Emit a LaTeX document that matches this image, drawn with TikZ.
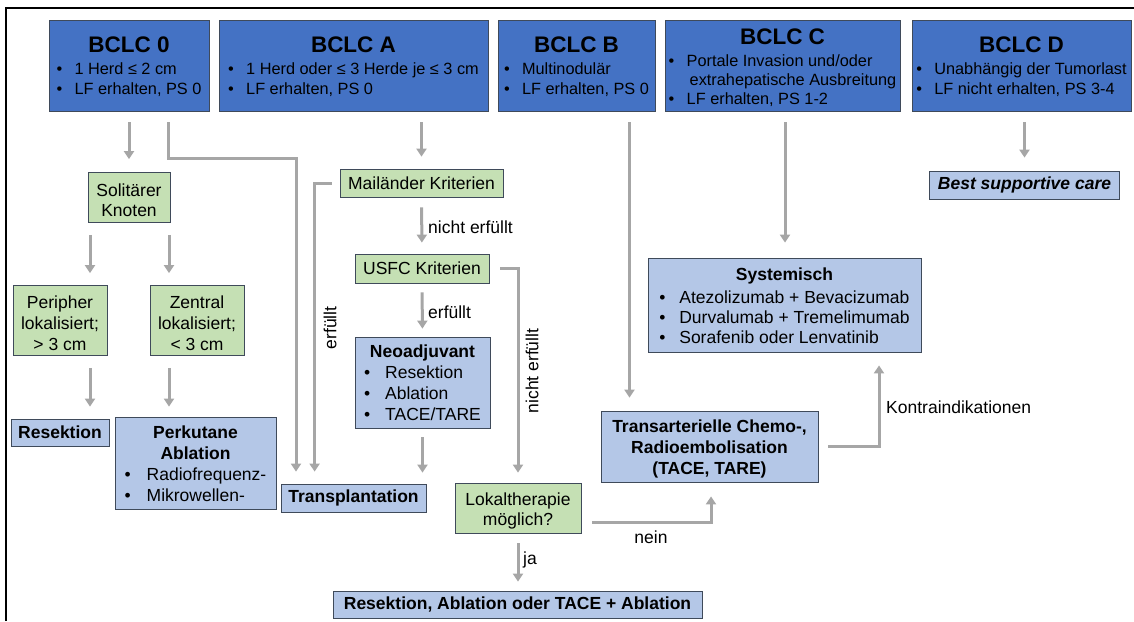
\documentclass[tikz,border=0pt]{standalone}
\usepackage{fontspec}
\setmainfont{Liberation Sans}
\usetikzlibrary{arrows.meta}
\definecolor{dblue}{HTML}{4472C4}
\definecolor{lblue}{HTML}{B4C7E7}
\definecolor{lgreen}{HTML}{C5E0B4}
\definecolor{bord}{HTML}{3F4A5A}
\definecolor{arrg}{HTML}{A6A6A6}
\newcommand{\bl}[2][18pt]{\makebox[#1][l]{\textbullet}#2}
\newcommand{\tfont}{\fontsize{22.5}{26}\selectfont\bfseries}
\newcommand{\ctr}[1]{\multicolumn{1}{@{}c@{}}{#1}}
\newcommand{\tup}{\rule{0pt}{22pt}}
\newcommand{\bup}{\rule{0pt}{19.7pt}}
\newcommand{\lup}{\rule{0pt}{18pt}}
\begin{document}
\begin{tikzpicture}[x=1pt,y=-1pt,
  box/.style={draw=bord, line width=0.8pt, inner sep=0pt, align=center, font=\fontsize{17.5}{21}\selectfont},
  topbox/.style={box, fill=dblue, font=\fontsize{16.3}{20}\selectfont},
  lbox/.style={box, fill=lblue},
  gbox/.style={box, fill=lgreen},
  arr/.style={draw=arrg, line width=3pt, -{Triangle[width=10pt,length=8pt]}},
  lab/.style={font=\fontsize{17.5}{21}\selectfont, inner sep=0pt}]

\useasboundingbox (0,0) rectangle (1134,621);
\draw[line width=2.5pt] (6,621) -- (6,8) -- (1134,8);

% top row
\node[topbox, minimum width=160pt, minimum height=91pt] (b0) at (129,65.5)
  {\begin{tabular}{@{}l@{}}\ctr{\tup\tfont BCLC 0}\\[2pt]\bl{1 Herd ≤ 2 cm}\\\bl{LF erhalten, PS 0}\end{tabular}};
\node[topbox, minimum width=269pt, minimum height=91pt] (bA) at (353.5,65.5)
  {\begin{tabular}{@{}l@{}}\ctr{\tup\tfont BCLC A}\\[2pt]\bl{1 Herd oder ≤ 3 Herde je ≤ 3 cm}\\\bl{LF erhalten, PS 0}\end{tabular}};
\node[topbox, minimum width=157pt, minimum height=91pt] (bB) at (576.5,65.5)
  {\begin{tabular}{@{}l@{}}\ctr{\tup\tfont BCLC B}\\[2pt]\bl{Multinodulär}\\\bl{LF erhalten, PS 0}\end{tabular}};
\node[topbox, minimum width=235pt, minimum height=91pt, font=\fontsize{16.3}{19}\selectfont] (bC) at (782.5,65.5)
  {\begin{tabular}{@{}l@{}}\ctr{\rule{0pt}{23.5pt}\tfont BCLC C}\\[3pt]\bl{Portale Invasion und/oder}\\\hspace*{21pt}extrahepatische Ausbreitung\\\bl{LF erhalten, PS 1-2}\end{tabular}};
\node[topbox, minimum width=219pt, minimum height=91pt] (bD) at (1021.5,65.5)
  {\begin{tabular}{@{}l@{}}\ctr{\tup\tfont BCLC D}\\[2pt]\bl{Unabhängig der Tumorlast}\\\bl{LF nicht erhalten, PS 3-4}\end{tabular}};

% BCLC 0 branch
\node[gbox, minimum width=82pt, minimum height=50pt, font=\fontsize{17.5}{20}\selectfont] (sol) at (129,197.5) {\lup Solitärer\\Knoten};
\node[gbox, minimum width=94pt, minimum height=70pt] (per) at (60,320.5) {\lup Peripher\\lokalisiert;\\> 3 cm};
\node[gbox, minimum width=94pt, minimum height=70pt] (zen) at (197,320.5) {\lup Zentral\\lokalisiert;\\< 3 cm};
\node[lbox, minimum width=98pt, minimum height=27pt, font=\fontsize{17.5}{21}\selectfont\bfseries] (res) at (60,432.5) {Resektion};
\node[lbox, minimum width=161pt, minimum height=92pt] (perk) at (195.5,463)
  {\begin{tabular}{@{}l@{}}\ctr{\bup\bfseries Perkutane}\\\ctr{\bfseries Ablation}\\\bl[22pt]{Radiofrequenz-}\\\bl[22pt]{Mikrowellen-}\end{tabular}};
\node[lbox, minimum width=145pt, minimum height=28pt, font=\fontsize{17.5}{21}\selectfont\bfseries] (tx) at (353.5,498) {Transplantation};

% BCLC A branch
\node[gbox, minimum width=163pt, minimum height=28pt] (mail) at (421.5,183) {Mailänder Kriterien};
\node[gbox, minimum width=134pt, minimum height=29pt] (usfc) at (422,268.5) {USFC Kriterien};
\node[lbox, minimum width=135pt, minimum height=91pt] (neo) at (422.5,382.5)
  {\begin{tabular}{@{}l@{}}\ctr{\bup\bfseries Neoadjuvant}\\\bl[21pt]{Resektion}\\\bl[21pt]{Ablation}\\\bl[21pt]{TACE/TARE}\end{tabular}};
\node[gbox, minimum width=126pt, minimum height=50pt, font=\fontsize{17.5}{20}\selectfont] (lok) at (518,508) {\lup Lokaltherapie\\möglich?};
\node[lbox, minimum width=369pt, minimum height=27pt, font=\fontsize{17.5}{21}\selectfont\bfseries] (fin) at (517.5,604.5) {Resektion, Ablation oder TACE + Ablation};

% BCLC B/C/D
\node[lbox, minimum width=217pt, minimum height=71pt, font=\fontsize{17.5}{21}\selectfont\bfseries] (tace) at (709.5,446.5)
  {\lup Transarterielle Chemo-,\\Radioembolisation\\(TACE, TARE)};
\node[lbox, minimum width=273pt, minimum height=94pt, font=\fontsize{17.5}{20}\selectfont] (sys) at (784.5,305)
  {\begin{tabular}{@{}l@{}}\ctr{\rule{0pt}{19pt}\bfseries Systemisch}\\[3pt]\bl[20pt]{Atezolizumab + Bevacizumab}\\\bl[20pt]{Durvalumab + Tremelimumab}\\\bl[20pt]{Sorafenib oder Lenvatinib}\end{tabular}};
\node[lbox, minimum width=190pt, minimum height=28pt, font=\fontsize{17.5}{21}\selectfont\bfseries\itshape] (bsc) at (1024.5,185) {Best supportive care};

% helper coordinates
\coordinate (k0) at (296,158);
\coordinate (p1) at ([xshift=30pt]per.north);
\coordinate (p2) at ([xshift=-28pt]zen.north);
\coordinate (k1) at ([xshift=34pt]tx.north west);
\coordinate (k2) at ([yshift=-14pt]lok.east);
\coordinate (k3) at ([xshift=53pt]bB.south);
\coordinate (k4) at ([xshift=94.5pt]sys.south);
\coordinate (k5) at ([xshift=2.5pt]bC.south);

% connectors
\draw[arr, shorten <=11pt, shorten >=13pt] (b0.south) -- (sol.north);
\draw[arr, shorten <=11pt, shorten >=12pt] ([xshift=39pt]b0.south) |- (k0) -- (k0 |- tx.north);
\draw[arr, shorten <=12pt, shorten >=12pt] (p1 |- sol.south) -- (p1);
\draw[arr, shorten <=12pt, shorten >=12pt] (p2 |- sol.south) -- (p2);
\draw[arr, shorten <=12pt, shorten >=12pt] (p1 |- per.south) -- (p1 |- res.north);
\draw[arr, shorten <=12pt, shorten >=10pt] (p2 |- zen.south) -- (p2 |- perk.north);
\draw[arr, shorten <=11pt, shorten >=12pt] (bA.south -| mail.north) -- (mail.north);
\draw[arr, shorten <=8pt, shorten >=12pt] (mail.west) -| (k1);
\draw[arr, shorten <=10pt, shorten >=11pt] (mail.south) -- (usfc.north);
\draw[arr, shorten <=9pt, shorten >=8pt] (usfc.south) -- (neo.north);
\draw[arr, shorten <=9pt, shorten >=11pt] (neo.south) -- (neo.south |- tx.north);
\draw[arr, shorten <=11pt, shorten >=10pt] (usfc.east) -| (lok.north);
\draw[arr, shorten <=11pt, shorten >=14pt] (k2) -| ([xshift=1.5pt]tace.south);
\draw[arr, shorten <=10pt, shorten >=9pt] (lok.south) -- (lok.south |- fin.north);
\draw[arr, shorten <=11pt, shorten >=13pt] (k3) -- (k3 |- tace.north);
\draw[arr, shorten <=11pt, shorten >=15pt] (k5) -- (k5 |- sys.north);
\draw[arr, shorten <=10pt, shorten >=13pt] (tace.east) -| (k4);
\draw[arr, shorten <=11pt, shorten >=13pt] (bsc.north |- bD.south) -- (bsc.north);

% labels
\node[lab, anchor=west] (l1) at (428,227) {nicht erfüllt};
\node[lab, anchor=west] (l2) at (428,312) {erfüllt};
\node[lab, rotate=90] (l3) at (330,328) {erfüllt};
\node[lab, rotate=90] (l4) at (532,371) {nicht erfüllt};
\node[lab] (l5) at (651,537) {nein};
\node[lab, anchor=west] (l6) at (523,560) {ja};
\node[lab, anchor=west] (l7) at (886,407) {Kontraindikationen};
\end{tikzpicture}
\end{document}
